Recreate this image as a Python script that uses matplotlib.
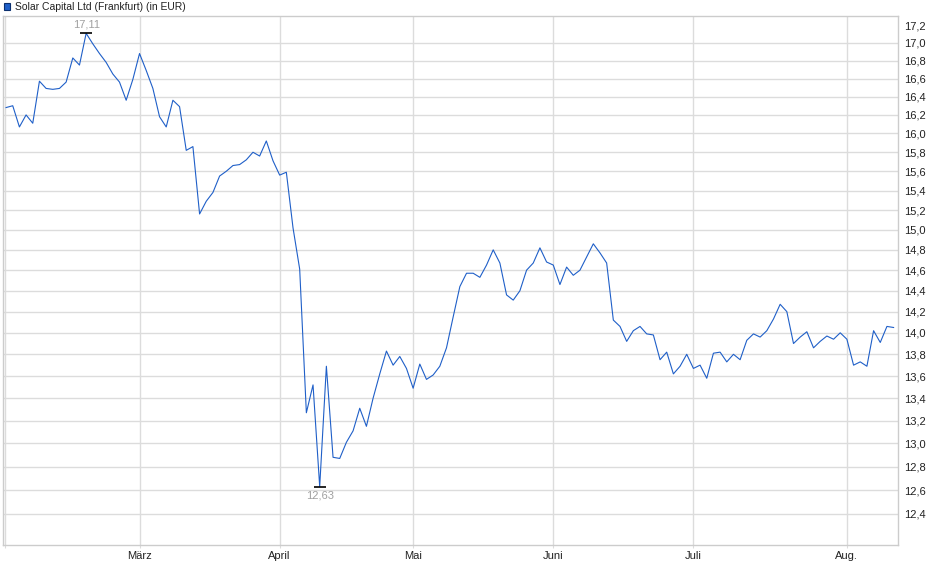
import numpy as np
import matplotlib
matplotlib.use("Agg")
import matplotlib.pyplot as plt
from matplotlib.ticker import FixedLocator, FuncFormatter, NullLocator

plt.rcParams['font.family'] = ['Liberation Sans', 'DejaVu Sans']

# Schlusskurse pro Handelstag (EUR)
prices = [
    16.28, 16.30, 16.07, 16.20, 16.11, 16.57, 16.49, 16.48, 16.49, 16.56,
    16.83, 16.75, 17.11, 16.99, 16.88, 16.78, 16.65, 16.56, 16.36, 16.59,
    16.88, 16.69, 16.49, 16.18, 16.07, 16.36, 16.29, 15.82, 15.86, 15.16,
    15.29, 15.38, 15.55, 15.60, 15.66, 15.67, 15.72, 15.80, 15.76, 15.92,
    15.71, 15.56, 15.59, 15.02, 14.61, 13.27, 13.52, 12.63, 13.69, 12.88,
    12.87, 13.01, 13.11, 13.31, 13.15, 13.40, 13.62, 13.83, 13.70, 13.78,
    13.67, 13.49, 13.71, 13.57, 13.61, 13.69, 13.86, 14.15, 14.44, 14.57,
    14.57, 14.53, 14.65, 14.80, 14.67, 14.36, 14.31, 14.40, 14.60, 14.67,
    14.82, 14.68, 14.65, 14.46, 14.63, 14.55, 14.60, 14.73, 14.86, 14.77,
    14.67, 14.12, 14.06, 13.92, 14.02, 14.06, 13.99, 13.98, 13.75, 13.82,
    13.62, 13.69, 13.80, 13.67, 13.70, 13.58, 13.81, 13.82, 13.73, 13.80,
    13.75, 13.93, 13.99, 13.96, 14.02, 14.13, 14.27, 14.20, 13.90, 13.96,
    14.01, 13.86, 13.92, 13.97, 13.94, 14.00, 13.94, 13.70, 13.73, 13.69,
    14.02, 13.91, 14.06, 14.05,
]

# Monatsanfang als Handelstag-Index
month_pos = [-0.2, 20, 41, 61, 82, 103, 126]
month_labels = ['', 'März', 'April', 'Mai', 'Juni', 'Juli', 'Aug.']

y_ticks = [12.4, 12.6, 12.8, 13.0, 13.2, 13.4, 13.6, 13.8, 14.0, 14.2, 14.4,
           14.6, 14.8, 15.0, 15.2, 15.4, 15.6, 15.8, 16.0, 16.2, 16.4, 16.6,
           16.8, 17.0, 17.2]

line_color = '#1f5fc8'
grid_color = '#dcdcdc'

x = np.arange(len(prices))
y = np.array(prices)

fig = plt.figure(figsize=(9.4, 5.79), dpi=100)
ax = fig.add_axes([0.0029, 0.0587, 0.952, 0.9137])

ax.plot(x, y, color=line_color, linewidth=0.8, zorder=3)

ax.set_yscale('log')
ax.set_ylim(12.145, 17.31)
ax.set_xlim(-0.5, 133.6)

ax.yaxis.set_major_locator(FixedLocator(y_ticks))
ax.yaxis.set_minor_locator(NullLocator())
ax.yaxis.set_major_formatter(FuncFormatter(lambda v, p: f"{v:.1f}".replace('.', ',')))
ax.yaxis.tick_right()
ax.tick_params(axis='y', length=0, pad=5, labelsize=8, labelcolor='#222222')

ax.set_xticks(month_pos)
ax.set_xticklabels(month_labels)
ax.tick_params(axis='x', length=2, color=grid_color, pad=2, labelsize=8, labelcolor='#222222')

# vertikale Linien über die Achse, horizontale ohne die oberste (17,2)
ax.grid(True, axis='x', color=grid_color, linewidth=1.0)
for v in y_ticks[:-1]:
    ax.axhline(v, color=grid_color, linewidth=1.0, zorder=1)
ax.set_axisbelow(True)

for s in ax.spines.values():
    s.set_color('#cccccc')
    s.set_linewidth(1.0)

# Hoch / Tief markieren
i_max = int(np.argmax(y))
i_min = int(np.argmin(y))
ax.plot(x[i_max], y[i_max], marker='_', color='black', markersize=8, markeredgewidth=1.2, zorder=4)
ax.plot(x[i_min], y[i_min], marker='_', color='black', markersize=8, markeredgewidth=1.2, zorder=4)
ax.annotate(f"{y[i_max]:.2f}".replace('.', ','), (x[i_max], y[i_max]),
            xytext=(0, 3), textcoords='offset points', ha='center', va='bottom',
            fontsize=8, color='#a0a0a0')
ax.annotate(f"{y[i_min]:.2f}".replace('.', ','), (x[i_min], y[i_min]),
            xytext=(0, -3), textcoords='offset points', ha='center', va='top',
            fontsize=8, color='#a0a0a0')

# Legende oben links
fig.patches.append(plt.Rectangle((3.5 / 940, 1 - 9.5 / 579), 6.5 / 940, 6.5 / 579,
                                 transform=fig.transFigure, facecolor=line_color,
                                 edgecolor='#0b2f6e', linewidth=0.8))
fig.text(15 / 940, 1 - 6.5 / 579, 'Solar Capital Ltd (Frankfurt) (in EUR)',
         ha='left', va='center', fontsize=7.5, color='#222222')

fig.savefig('out.png', dpi=100)
